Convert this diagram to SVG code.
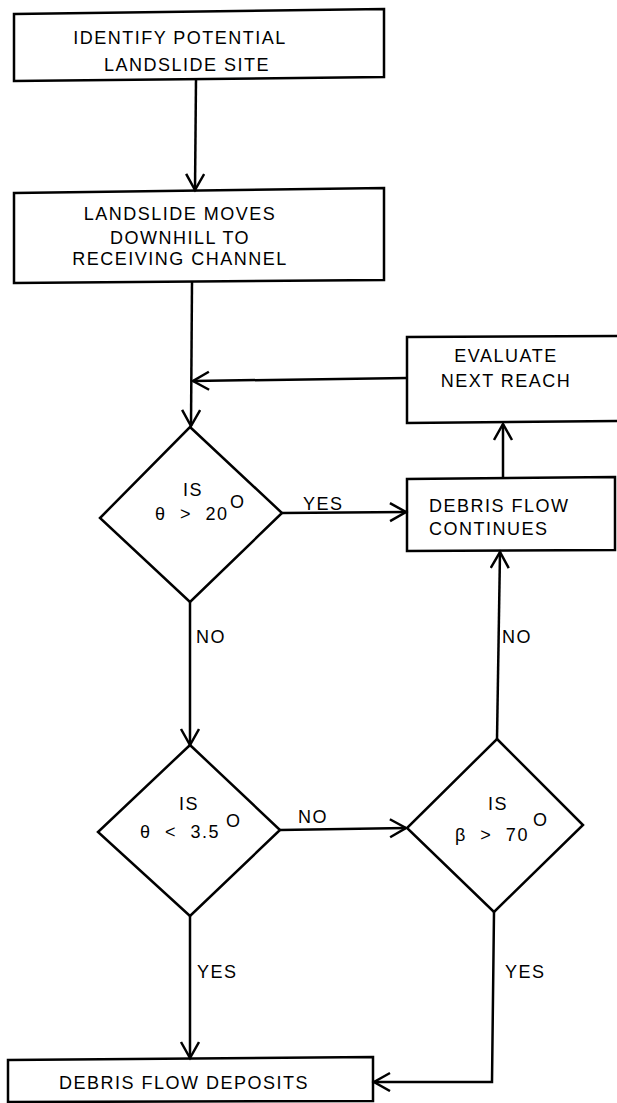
<svg xmlns="http://www.w3.org/2000/svg" width="617" height="1103" viewBox="0 0 617 1103">
<defs>
<style>
.box{fill:none;stroke:#000;stroke-width:2.5}
.c{fill:none;stroke:#000;stroke-width:2.5}
text{font-family:"Liberation Sans",Arial,sans-serif;font-size:18px;fill:#000;letter-spacing:1.5px}
.m{text-anchor:middle}
.eq{word-spacing:7px}
</style>
<marker id="ah" markerUnits="userSpaceOnUse" markerWidth="20" markerHeight="22" refX="17" refY="10" orient="auto" viewBox="0 0 20 22">
<path d="M1,1 L17,10 L1,19" fill="none" stroke="#000" stroke-width="2.5"/>
</marker>
</defs>
<rect width="617" height="1103" fill="#fff"/>

<g id="connectors">
<line class="c" x1="196" y1="79" x2="195" y2="190" marker-end="url(#ah)"/>
<line class="c" x1="192" y1="282" x2="191" y2="426" marker-end="url(#ah)"/>
<line class="c" x1="407" y1="378" x2="193" y2="381" marker-end="url(#ah)"/>
<line class="c" x1="282" y1="513" x2="406" y2="512" marker-end="url(#ah)"/>
<line class="c" x1="503" y1="478" x2="503" y2="424" marker-end="url(#ah)"/>
<line class="c" x1="190" y1="602" x2="190" y2="745" marker-end="url(#ah)"/>
<line class="c" x1="280" y1="830" x2="406" y2="828" marker-end="url(#ah)"/>
<line class="c" x1="497" y1="739" x2="500" y2="552" marker-end="url(#ah)"/>
<line class="c" x1="190" y1="916" x2="190" y2="1058" marker-end="url(#ah)"/>
<polyline class="c" points="494,912 492,1082 374,1082" marker-end="url(#ah)"/>
<text x="303" y="510">YES</text>
<text x="196" y="643">NO</text>
<text x="298" y="823">NO</text>
<text x="502" y="643">NO</text>
<text x="197" y="978">YES</text>
<text x="505" y="978">YES</text>
</g>

<g id="n1">
<polygon class="box" points="14,14 384,9 384,77 14,81"/>
<text class="m" x="180" y="44">IDENTIFY POTENTIAL</text>
<text class="m" x="187" y="71">LANDSLIDE SITE</text>
</g>

<g id="n2">
<polygon class="box" points="14,193 384,188 384,280 14,283"/>
<text class="m" x="180" y="220">LANDSLIDE MOVES</text>
<text class="m" x="180" y="244">DOWNHILL TO</text>
<text class="m" x="180" y="265">RECEIVING CHANNEL</text>
</g>

<g id="n3">
<polygon class="box" points="620,336 407,337 407,423 620,421"/>
<text class="m" x="506" y="362">EVALUATE</text>
<text class="m" x="506" y="387">NEXT REACH</text>
</g>

<g id="n4">
<polygon class="box" points="615,477 407,479 407,551 615,550"/>
<text x="429" y="512">DEBRIS FLOW</text>
<text x="429" y="535">CONTINUES</text>
</g>

<g id="d1">
<polygon class="box" points="190,427 282,513 190,602 100,518"/>
<text class="m" x="193" y="496">IS</text>
<text class="eq" x="155" y="520">θ &gt; 20</text>
<text x="230" y="508">O</text>
</g>

<g id="d2">
<polygon class="box" points="190,745 280,830 190,916 98,832"/>
<text class="m" x="189" y="810">IS</text>
<text class="eq" x="140" y="838">θ &lt; 3.5</text>
<text x="226" y="827">O</text>
</g>

<g id="d3">
<polygon class="box" points="497,739 583,825 494,912 407,828"/>
<text class="m" x="498" y="810">IS</text>
<text class="eq" x="455" y="841">β &gt; 70</text>
<text x="533" y="826">O</text>
</g>

<g id="n5">
<polygon class="box" points="8,1060 373,1057 373,1101 8,1102"/>
<text x="59" y="1089">DEBRIS FLOW DEPOSITS</text>
</g>
</svg>
